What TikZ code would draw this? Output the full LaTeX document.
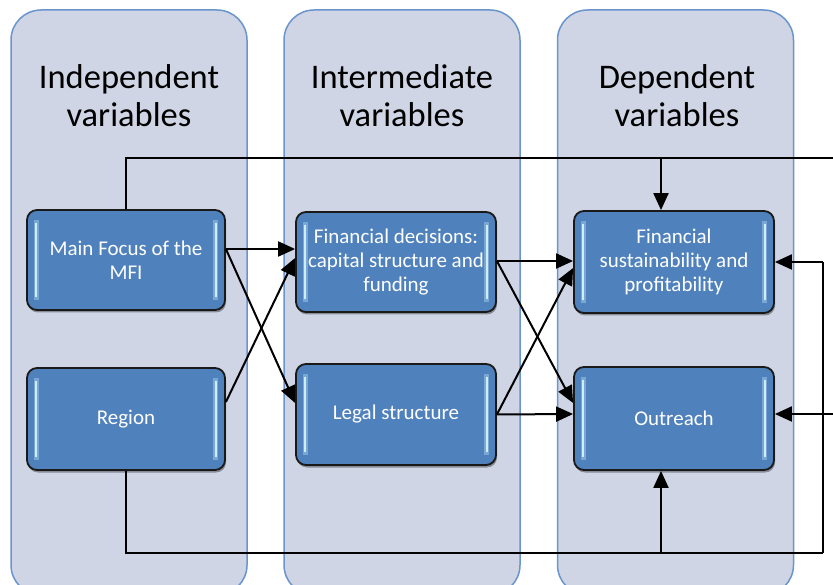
\documentclass[tikz,border=0pt]{standalone}
\usepackage{fontspec}
\setmainfont{Carlito}
\usetikzlibrary{arrows.meta,shadows,calc}
\definecolor{colfill}{HTML}{CFD5E4}
\definecolor{colline}{HTML}{6A94CC}
\definecolor{boxfill}{HTML}{4F81BD}
\definecolor{glint}{HTML}{CDEEFF}
\newcommand\boxgloss[1]{%
  \draw[glint,line width=5pt,opacity=0.35] ([xshift=10pt,yshift=-11pt]#1.north west) -- ([xshift=10pt,yshift=11pt]#1.south west);
  \draw[glint,line width=2.2pt] ([xshift=10pt,yshift=-14pt]#1.north west) -- ([xshift=10pt,yshift=14pt]#1.south west);
  \draw[glint,line width=5pt,opacity=0.35] ([xshift=-10pt,yshift=-11pt]#1.north east) -- ([xshift=-10pt,yshift=11pt]#1.south east);
  \draw[glint,line width=2.2pt] ([xshift=-10pt,yshift=-14pt]#1.north east) -- ([xshift=-10pt,yshift=14pt]#1.south east);}
\begin{document}
\begin{tikzpicture}[x=1pt,y=-1pt,
  column/.style={draw=colline,line width=1.5pt,fill=colfill,rounded corners=30pt,inner sep=0pt},
  title/.style={font=\fontsize{34.5}{38}\selectfont,anchor=base,text=black,inner sep=0pt},
  box/.style={draw=black!90,line width=1.8pt,fill=boxfill,rounded corners=10pt,text=white,align=center,
    font=\fontsize{21}{24}\selectfont,inner sep=0pt,
    drop shadow={shadow xshift=1pt,shadow yshift=-2.5pt,opacity=0.35,fill=black}},
  conn/.style={line width=2pt,black},
  arr/.style={conn,-{Triangle[length=17pt,width=15pt]}}]
\useasboundingbox (0,0) rectangle (833,585);
% columns
\node[column,minimum width=236pt,minimum height=585pt] (col1) at (129,302.5) {};
\node[column,minimum width=236pt,minimum height=585pt] (col2) at (402,302.5) {};
\node[column,minimum width=236pt,minimum height=585pt] (col3) at (675.5,302.5) {};
% titles
\node[title] (t1a) at (129,89) {Independent};
\node[title] (t1b) at (129,127) {variables};
\node[title] (t2a) at (402,89) {Intermediate};
\node[title] (t2b) at (402,127) {variables};
\node[title] (t3a) at (677,89) {Dependent};
\node[title] (t3b) at (677,127) {variables};
% boxes
\node[box,minimum width=198pt,minimum height=100pt] (main) at (126,260) {Main Focus of the\\MFI};
\node[box,minimum width=198pt,minimum height=102pt] (region) at (126,419) {Region};
\node[box,minimum width=200pt,minimum height=100pt] (fd) at (396,262) {Financial decisions:\\capital structure and\\funding};
\node[box,minimum width=200pt,minimum height=101pt] (legal) at (396,414.5) {Legal structure};
\node[box,minimum width=200pt,minimum height=102pt] (fs) at (674,262) {Financial\\sustainability and\\profitability};
\node[box,minimum width=200pt,minimum height=103pt] (out) at (674,418.5) {Outreach};
\boxgloss{main}\boxgloss{region}\boxgloss{fd}\boxgloss{legal}\boxgloss{fs}\boxgloss{out}
% cross arrows
\draw[arr] ([yshift=11pt]main.east) -- ([yshift=13pt]fd.west);
\draw[arr] ([yshift=11pt]main.east) -- ([yshift=11.5pt]legal.west);
\draw[arr] ([yshift=17pt]region.east) -- ([yshift=4pt]fd.west);
\draw[arr] ([yshift=1pt]fd.east) -- ([yshift=1pt]fs.west);
\draw[arr] ([yshift=1pt]fd.east) -- ([yshift=15.5pt]out.west);
\draw[arr] (legal.east) -- ([yshift=4.5pt]out.west);
\draw[arr] (legal.east) -- ([yshift=-6pt]fs.west);
% feedback lines
\coordinate (tr) at (833,158);
\coordinate (tj) at (661,158);
\coordinate (rj) at (823,262);
\coordinate (rb) at (823,553);
\coordinate (bj) at (661,553);
\coordinate (oe) at (833,414);
\draw[conn,line width=1.6pt] (main.north) |- (tr);
\draw[arr] (tj) -- (tj |- fs.north);
\draw[arr] (rj) -- (fs.east);
\draw[conn] (rj) -- (rb);
\draw[conn] (region.south) |- (rb);
\draw[arr] (bj) -- (bj |- out.south);
\draw[arr] (oe) -- (oe -| out.east);
\end{tikzpicture}
\end{document}
